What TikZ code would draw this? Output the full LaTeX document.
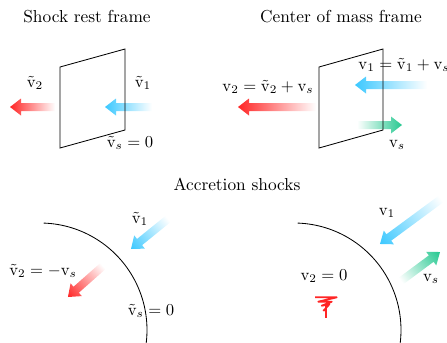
\documentclass[tikz,border=0pt]{standalone}
\usetikzlibrary{calc}
\definecolor{arblue}{HTML}{3CC8FF}
\definecolor{arred}{HTML}{FF2525}
\definecolor{argreen}{HTML}{25C890}
\def\arsw{4}
\def\arhw{8.5}
\def\arhk{11}
\newcommand{\fatarrow}[5]{%
  \begin{scope}[transform canvas={shift={(#1,#2)},rotate=#3}]
    \shade[left color=white,right color=#5]
      (0,-\arsw)--({#4-\arhk},-\arsw)--({#4-\arhk},-\arhw)--(#4,0)--({#4-\arhk},\arhw)--({#4-\arhk},\arsw)--(0,\arsw)--cycle;
  \end{scope}}
\newcommand{\vv}{\mathrm{v}}
\newcommand{\tv}{\tilde{\mathrm{v}}}
\begin{document}
\begin{tikzpicture}[x=0.6pt,y=0.6pt,
  every node/.style={font=\fontsize{10.4}{12.5}\selectfont, inner sep=0pt},
  shock/.style={line width=0.5pt},
  scrib/.style={arred, line width=1.1pt, line join=round}]
\useasboundingbox (0,0) rectangle (447,342);
% arrows
\fatarrow{55}{235}{180}{45}{arred}
\fatarrow{152}{235}{180}{47}{arblue}
\fatarrow{427}{257}{180}{72}{arblue}
\fatarrow{316}{235}{180}{78}{arred}
\fatarrow{357}{217}{0}{45}{argreen}
\fatarrow{168}{123}{219}{47.6}{arblue}
\fatarrow{103}{76}{221.5}{46.8}{arred}
\fatarrow{441}{143}{216.4}{75.8}{arblue}
\fatarrow{401}{61}{36.6}{48.6}{argreen}
% shocks
\draw[shock] (60,275)--(125,293)--(125,212)--(60,194)--cycle;
\draw[shock] (319,275)--(383,293)--(383,212)--(319,194)--cycle;
\draw[shock] (40,12) ++(88:107) arc[start angle=88,end angle=-7,radius=107];
\draw[shock] (294,12) ++(88:107) arc[start angle=88,end angle=-7,radius=107];
% scribble
\draw[scrib] (315,44.7)--(336.7,44.7)--(318.3,40.3)--(331.7,40.3)--(321.7,36.3)--(329.3,37.7)--(323.3,31);
\draw[scrib] (326,37)--(326,23.7);
% titles
\node (t1) at (87,325) {Shock rest frame};
\node (t2) at (341,325) {Center of mass frame};
\node (t3) at (237,158) {Accretion shocks};
% labels top left
\node (a1) at (35,259) {$\tv_2$};
\node (a2) at (143,259) {$\tv_1$};
\node (a3) at (130,199) {$\tv_s=0$};
% labels top right
\node (b1) at (404,277) {$\vv_1=\tv_1+\vv_s$};
\node (b2) at (268,255) {$\vv_2=\tv_2+\vv_s$};
\node (b3) at (397,197) {$\vv_s$};
% labels bottom left
\node (c1) at (140,123) {$\tv_1$};
\node (c2) at (43,71) {$\tv_2=-\vv_s$};
\node (c3) at (151,31) {$\tv_s=0$};
% labels bottom right
\node (d1) at (387,129) {$\vv_1$};
\node (d2) at (431,63) {$\vv_s$};
\node (d3) at (324,66) {$\vv_2=0$};
\end{tikzpicture}
\end{document}
